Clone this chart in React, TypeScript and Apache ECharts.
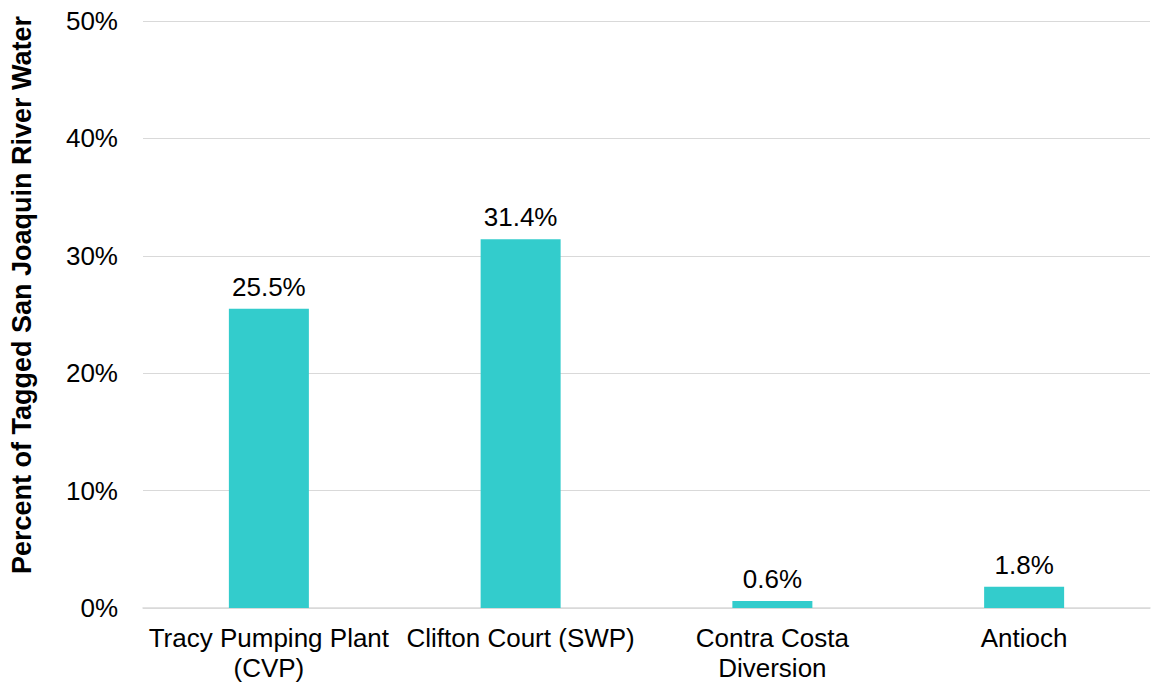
import React, { useEffect, useRef } from "react";
import * as echarts from "echarts";

const categories = [
  "Tracy Pumping Plant\n(CVP)",
  "Clifton Court (SWP)",
  "Contra Costa\nDiversion",
  "Antioch",
];
const values = [25.5, 31.4, 0.6, 1.8];
const yTicks = [0, 10, 20, 30, 40, 50];
const yTitle = "Percent of Tagged San Joaquin River Water";

export default function App() {
  const ref = useRef<HTMLDivElement>(null);
  useEffect(() => {
    document.body.style.margin = "0";
    const chart = echarts.init(ref.current!, null, { renderer: "svg" });
    const font = "Liberation Sans, Arial, sans-serif";
    chart.setOption({
      animation: false,
      textStyle: { fontFamily: font },
      grid: { left: 143, right: 1, top: 21, bottom: 77, containLabel: false },
      graphic: [
        {
          type: "text",
          x: 22,
          y: 295,
          rotation: Math.PI / 2,
          style: {
            text: yTitle,
            fill: "#000",
            font: "bold 27px Liberation Sans, Arial, sans-serif",
            align: "center",
            verticalAlign: "middle",
          },
        },
      ],
      xAxis: {
        type: "category",
        data: categories,
        axisTick: { show: false },
        axisLine: { lineStyle: { color: "#d9d9d9", width: 1.5 } },
        axisLabel: {
          color: "#000",
          fontSize: 26,
          fontFamily: font,
          lineHeight: 30,
          margin: 15,
          interval: 0,
        },
      },
      yAxis: {
        type: "value",
        min: yTicks[0],
        max: yTicks[yTicks.length - 1],
        interval: 10,
        axisLine: { show: false },
        axisTick: { show: false },
        splitLine: { lineStyle: { color: "#d9d9d9", width: 1 } },
        axisLabel: {
          color: "#000",
          fontSize: 26,
          fontFamily: font,
          margin: 25,
          formatter: (v: number) => v + "%",
        },
      },
      series: [
        {
          type: "bar",
          data: values,
          barWidth: 80,
          itemStyle: { color: "#33CCCC" },
          label: {
            show: true,
            position: "top",
            distance: 9,
            color: "#000",
            fontSize: 26,
            fontFamily: font,
            formatter: (p: any) => p.value.toFixed(1) + "%",
          },
        },
      ],
    });
    return () => chart.dispose();
  }, []);
  return <div ref={ref} style={{ width: 1151, height: 685 }} />;
}
